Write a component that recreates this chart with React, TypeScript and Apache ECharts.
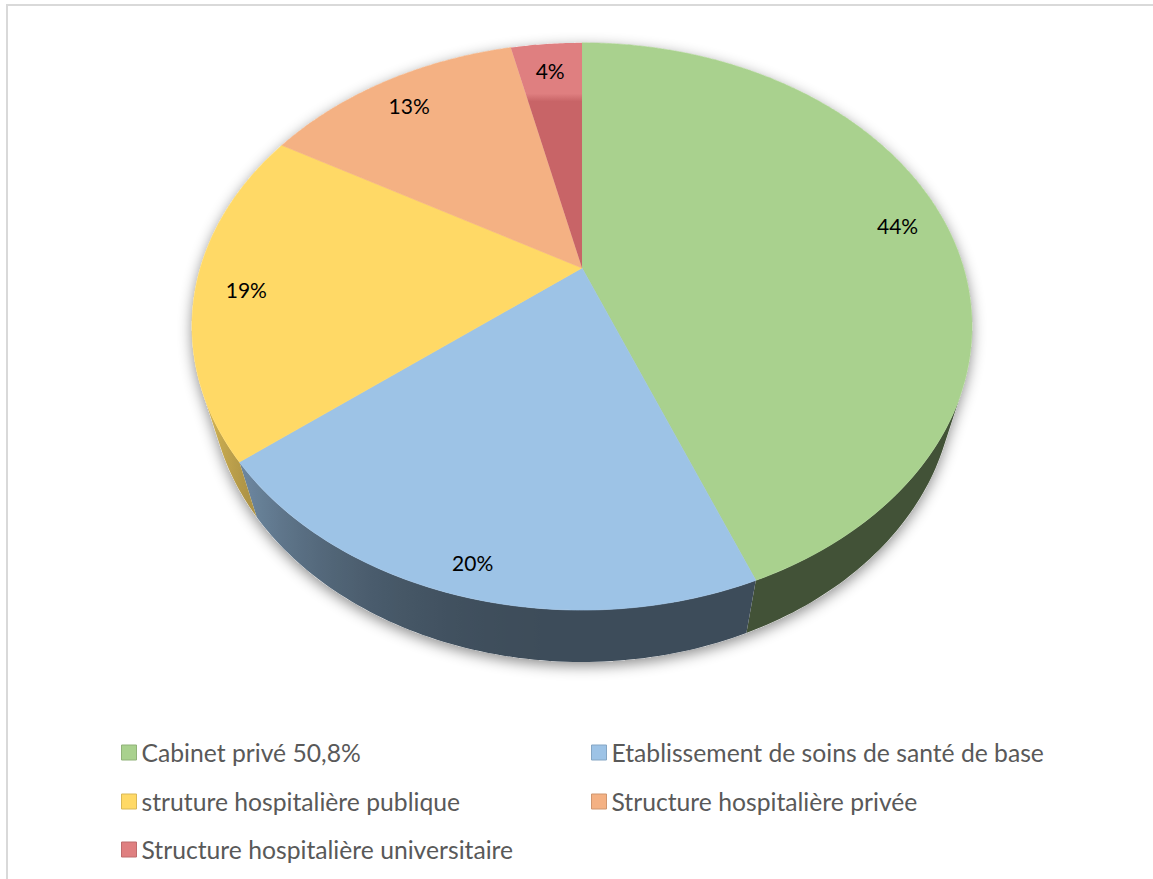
import React, { useEffect, useRef } from 'react';
import * as echarts from 'echarts';

// ---------- data ----------
const categories = [
  'Cabinet privé 50,8%',
  'Etablissement de soins de santé de base',
  'struture hospitalière publique',
  'Structure hospitalière privée',
  'Structure hospitalière universitaire',
];
const values = [44.0, 20.3, 19.0, 13.1, 3.6];
const topColors = ['#a9d18e', '#9dc3e6', '#ffd966', '#f4b183', '#df7f80'];

// ---------- layout / projection constants ----------
const CX = 582;
const CY = 268;
const FOCAL = 1301.6;
const DIST = 3.41;
const SINB = 0.7115;
const COSB = 0.7027;
const THICK = 0.2216;
const LABEL_R = [0.87, 0.91, 0.87, 0.87, 0.87];
const LABEL_DY = [0, 3, 3, 3, 2];
const LEGEND_POS = [
  [121, 753],
  [591, 753],
  [121, 802],
  [591, 802],
  [121, 850],
];
const FONT = 'Lato, "Open Sans", sans-serif';

function proj(f: number, th: number, z: number): number[] {
  const X = f * Math.sin(th);
  const Y = f * Math.cos(th);
  const depth = DIST + Y * COSB - z * SINB;
  return [CX + (FOCAL * X) / depth, CY - (FOCAL * (Y * SINB + z * COSB)) / depth];
}

function hexToRgb(hex: string) {
  const n = parseInt(hex.slice(1), 16);
  return [(n >> 16) & 255, (n >> 8) & 255, n & 255];
}
function shade(hex: string, k: number) {
  const [r, g, b] = hexToRgb(hex);
  return `rgb(${Math.round(r * k)},${Math.round(g * k)},${Math.round(b * k)})`;
}
function wallK(th: number) {
  const s = Math.max(0, -Math.sin(th));
  return 0.39 + 0.53 * Math.pow(s, 2.41);
}

const total = values.reduce((a, b) => a + b, 0);
const starts: number[] = [];
{
  let acc = 0;
  for (const v of values) {
    starts.push((acc / total) * Math.PI * 2);
    acc += v;
  }
}
function sliceRange(i: number) {
  const a = starts[i];
  const b = a + (values[i] / total) * Math.PI * 2;
  return [a, b];
}

const TH_MIN = Math.acos(-1 / (DIST * COSB));
const TH_MAX = Math.PI * 2 - TH_MIN;

function renderWalls() {
  const children: any[] = [];
  const sil: number[][] = [];
  for (let d = 0; d <= 720; d++) {
    const th = (d / 720) * Math.PI * 2;
    const front = th > TH_MIN && th < TH_MAX;
    sil.push(proj(1, th, front ? -THICK : 0));
  }
  children.push({
    type: 'polygon',
    shape: { points: sil },
    style: {
      fill: '#ffffff',
      shadowBlur: 14,
      shadowColor: 'rgba(0,0,0,0.45)',
      shadowOffsetY: 4,
    },
  });
  for (let i = 0; i < values.length; i++) {
    const [a0, b0] = sliceRange(i);
    const a = Math.max(a0, TH_MIN);
    const b = Math.min(b0, TH_MAX);
    if (b <= a) continue;
    const n = Math.max(2, Math.ceil((b - a) / (Math.PI / 180)));
    const topPts: number[][] = [];
    const botPts: number[][] = [];
    const samples: { x: number; c: string }[] = [];
    for (let s = 0; s <= n; s++) {
      const t = a + ((b - a) * s) / n;
      const pt = proj(1, t, 0);
      const pb = proj(1, t, -THICK);
      topPts.push(pt);
      botPts.push(pb);
      samples.push({ x: (pt[0] + pb[0]) / 2, c: shade(topColors[i], wallK(t)) });
    }
    const xr = samples[0].x;
    const xl = samples[samples.length - 1].x;
    const stops = samples
      .map((sm) => ({ offset: Math.min(1, Math.max(0, (sm.x - xl) / (xr - xl || 1))), color: sm.c }))
      .sort((p, q) => p.offset - q.offset);
    const fill = new echarts.graphic.LinearGradient(xl, 0, xr, 0, stops, true);
    children.push({
      type: 'polygon',
      shape: { points: topPts.concat(botPts.reverse()) },
      style: { fill },
    });
  }
  return { type: 'group', children };
}

function renderTop(i: number) {
  const [a, b] = sliceRange(i);
  const pts: number[][] = [[CX, CY]];
  const n = Math.max(2, Math.ceil((b - a) / (Math.PI / 360)));
  for (let s = 0; s <= n; s++) {
    pts.push(proj(1, a + ((b - a) * s) / n, 0));
  }
  let fill: any = topColors[i];
  if (i === 4) {
    fill = new echarts.graphic.LinearGradient(
      0,
      43,
      0,
      268,
      [
        { offset: 0, color: '#df7f80' },
        { offset: 0.225, color: '#df7f80' },
        { offset: 0.26, color: '#c86467' },
        { offset: 1, color: '#c86467' },
      ],
      true
    );
  }
  const mid = (a + b) / 2;
  const lp = proj(LABEL_R[i], mid, 0);
  const pct = Math.round((values[i] / total) * 100);
  return {
    type: 'group',
    children: [
      {
        type: 'polygon',
        shape: { points: pts },
        style: { fill, stroke: i === 4 ? null : topColors[i], lineWidth: 0.6 },
      },
      {
        type: 'text',
        style: {
          text: pct + '%',
          x: lp[0],
          y: lp[1] + LABEL_DY[i],
          align: 'center',
          verticalAlign: 'middle',
          fontSize: 21,
          fontFamily: FONT,
          fill: '#000000',
        },
      },
    ],
  };
}

export default function App() {
  const ref = useRef<HTMLDivElement>(null);
  useEffect(() => {
    if (!ref.current) return;
    const chart = echarts.init(ref.current, null, { renderer: 'svg' });
    const series: any[] = [
      {
        type: 'custom',
        name: '__walls',
        coordinateSystem: 'none',
        silent: true,
        z: 1,
        data: [0],
        renderItem: () => renderWalls(),
      },
    ];
    categories.forEach((name, i) => {
      series.push({
        type: 'custom',
        name,
        coordinateSystem: 'none',
        silent: true,
        z: 2,
        itemStyle: { color: topColors[i] },
        data: [values[i]],
        renderItem: () => renderTop(i),
      });
    });
    const legend = categories.map((name, i) => ({
      data: [
        {
          name,
          itemStyle: { color: topColors[i], borderColor: shade(topColors[i], 0.85), borderWidth: 1 },
        },
      ],
      left: LEGEND_POS[i][0],
      top: LEGEND_POS[i][1] - 13,
      padding: 0,
      icon: 'rect',
      itemWidth: 15,
      itemHeight: 15,
      itemGap: 0,
      selectedMode: false,
      textStyle: { fontSize: 24.7, color: '#595959', fontFamily: FONT },
    }));
    chart.setOption({
      animation: false,
      backgroundColor: '#ffffff',
      graphic: [
        {
          type: 'rect',
          shape: { x: 7, y: 5, width: 1180, height: 900 },
          style: { fill: 'none', stroke: '#d9d9d9', lineWidth: 2 },
          silent: true,
        },
      ],
      legend,
      series,
    });
    return () => chart.dispose();
  }, []);
  return (
    <div
      ref={ref}
      style={{ position: 'fixed', left: 0, top: 0, width: 1153, height: 879, background: '#fff' }}
    />
  );
}
